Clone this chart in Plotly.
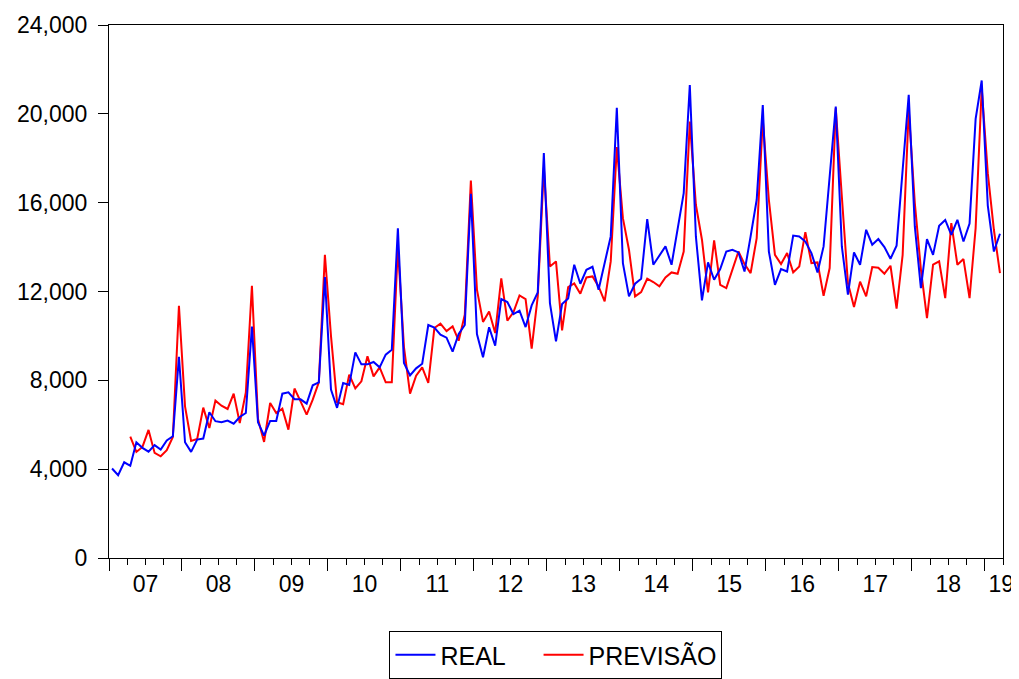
import plotly.graph_objects as go

# Monthly series, 2007M01 .. 2019M03
start_year = 2007
n_months = 147
periods = [f"{start_year + i // 12}M{i % 12 + 1:02d}" for i in range(n_months)]

real = [
    4030, 3730, 4310, 4150, 5210, 4960, 4790, 5080, 4880, 5290, 5480, 9060,
    5210, 4780, 5330, 5380, 6560, 6160, 6110, 6190, 6050, 6350, 6530, 10420,
    6110, 5510, 6170, 6170, 7400, 7460, 7150, 7145, 6950, 7775, 7910, 12650,
    7580, 6760, 7880, 7790, 9260, 8720, 8720, 8825, 8585, 9155, 9380, 14850,
    8780, 8225, 8540, 8750, 10490, 10370, 10055, 9920, 9290, 10085, 10490, 16400,
    10085, 9040, 10390, 9560, 11660, 11525, 10985, 11135, 10400, 11375, 11960, 18230,
    11480, 9755, 11435, 11690, 13205, 12350, 12980, 13115, 12080, 13280, 14480, 20270,
    13280, 11780, 12350, 12575, 15260, 13205, 13610, 14030, 13205, 14900, 16430, 21300,
    14480, 11600, 13310, 12530, 13010, 13800, 13880, 13760, 12900, 14480, 16130, 20400,
    13800, 12300, 13010, 12900, 14520, 14480, 14250, 13730, 12860, 14030, 17180, 20330,
    14030, 11855, 13760, 13205, 14780, 14105, 14360, 14000, 13475, 14060, 17480, 20860,
    14930, 12155, 14360, 13650, 14960, 15220, 14550, 15230, 14250, 15060, 19770, 21500,
    15870, 13800, 14600,
]

previsao = [
    None, None, None, 5466, 4777, 5000, 5767, 4732, 4581, 4852, 5451, 11360,
    6830, 5272, 5362, 6770, 5856, 7086, 6860, 6710, 7400, 6080, 7460, 12260,
    6260, 5226, 6980, 6530, 6725, 5780, 7630, 7055, 6456, 7130, 7910, 13654,
    10000, 7010, 6920, 8255, 7640, 7955, 9080, 8180, 8585, 7910, 7910, 14000,
    9500, 7400, 8210, 8585, 7880, 10355, 10550, 10220, 10430, 9785, 10955, 17000,
    12080, 10630, 11095, 10130, 12590, 10685, 11060, 11825, 11660, 9425, 11780, 17580,
    13130, 13355, 10250, 12200, 12365, 11900, 12635, 12680, 12230, 11555, 13355, 18500,
    15300, 13880, 11780, 11975, 12575, 12425, 12230, 12635, 12860, 12800, 13800, 19650,
    15905, 14330, 11960, 14300, 12300, 12155, 12980, 13800, 13235, 12830, 14405, 19730,
    16130, 13650, 13235, 13730, 12860, 13130, 14675, 13280, 13310, 11810, 13055, 20255,
    16280, 12380, 11300, 12440, 11780, 13100, 13070, 12800, 13160, 11225, 13650, 20180,
    15980, 13000, 10805, 13205, 13355, 11705, 15080, 13205, 13460, 11705, 14855, 21150,
    17330, 14780, 12830,
]

year_labels = ["07", "08", "09", "10", "11", "12", "13", "14", "15", "16", "17", "18", "19"]
year_label_pos = [5.5 + 12 * k for k in range(12)] + [146.2]

x = list(range(n_months))
FONT = "Liberation Sans, Arial, sans-serif"

fig = go.Figure()
fig.add_trace(go.Scatter(x=x, y=real, mode="lines", name="REAL&nbsp;&nbsp;&nbsp;&nbsp;",
                         line=dict(color="#0000FF", width=2), xaxis="x2",
                         text=periods, connectgaps=False))
fig.add_trace(go.Scatter(x=x, y=previsao, mode="lines", name="PREVISÃO",
                         line=dict(color="#FF0000", width=2), xaxis="x",
                         text=periods, connectgaps=False))

xr = [-0.5, n_months - 0.5]
# page body has an 8px default margin: figure is sized/offset to compensate
fig.update_layout(
    width=1011, height=671, autosize=False,
    margin=dict(l=101, r=16, t=17, b=120.5),
    paper_bgcolor="white", plot_bgcolor="white",
    font=dict(family=FONT, color="black"),
    showlegend=True,
    legend=dict(orientation="h", xref="container", yref="container",
                x=0.542, xanchor="center", y=-0.002, yanchor="bottom",
                bordercolor="black", borderwidth=1, font=dict(size=25, family=FONT),
                itemwidth=40),
    xaxis=dict(range=xr, tickmode="linear", tick0=-0.5, dtick=12, automargin=False,
               ticks="outside", ticklen=12, tickwidth=1, tickcolor="black",
               showticklabels=False, showgrid=False, zeroline=False,
               showline=True, linecolor="black", linewidth=1.2, mirror=True,
               minor=dict(tick0=-0.5, dtick=3, ticks="outside", ticklen=6,
                          tickwidth=1, tickcolor="black", showgrid=False)),
    xaxis2=dict(range=xr, overlaying="x", anchor="y", side="bottom", automargin=False,
                tickmode="array", tickvals=year_label_pos, ticktext=year_labels,
                ticks="outside", ticklen=5, tickcolor="rgba(0,0,0,0)",
                tickfont=dict(size=23, family=FONT),
                showgrid=False, zeroline=False, showline=False),
    yaxis=dict(range=[0, 24000], tickmode="linear", tick0=0, dtick=4000, automargin=False,
               tickformat=",", ticks="outside", ticklen=10, tickwidth=1,
               tickcolor="black", tickfont=dict(size=23, family=FONT),
               ticklabelstandoff=6,
               showgrid=False, zeroline=False,
               showline=True, linecolor="black", linewidth=1.2, mirror=True),
)

fig.write_html("out.html")
